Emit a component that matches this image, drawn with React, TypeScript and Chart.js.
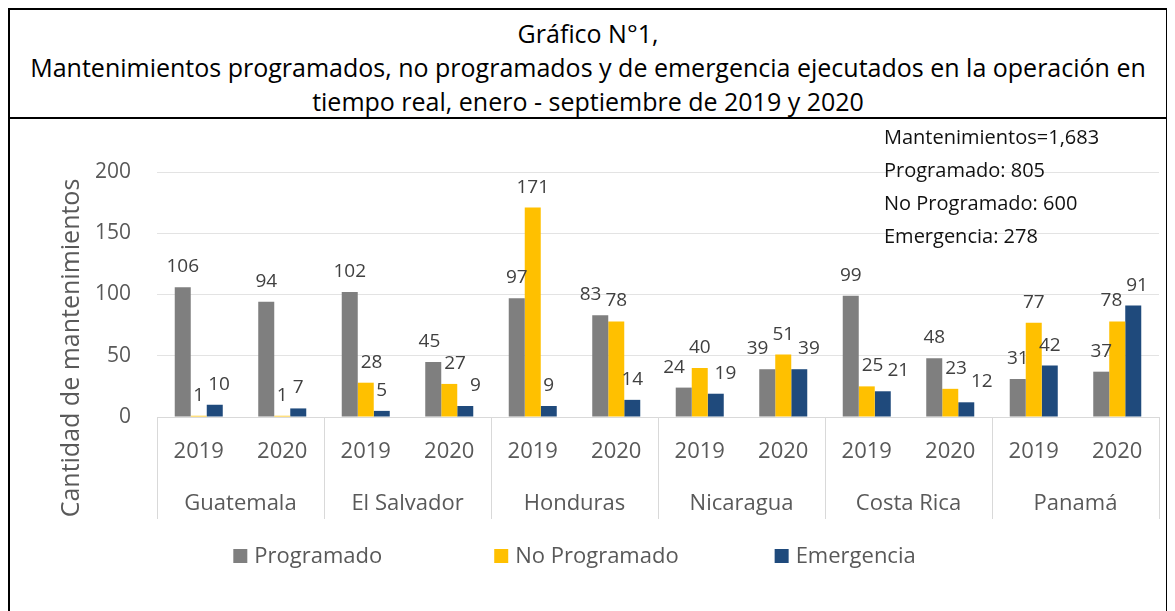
import React, { useEffect, useRef } from "react";
import { Chart, registerables } from "chart.js";

Chart.register(...registerables);

const FONT = "'Open Sans', 'Noto Sans', sans-serif";

const titleLines = [
  "Gráfico N°1,",
  "Mantenimientos programados, no programados y de emergencia ejecutados en la operación en",
  "tiempo real, enero - septiembre de 2019 y 2020",
];
const years = ["2019", "2020", "2019", "2020", "2019", "2020", "2019", "2020", "2019", "2020", "2019", "2020"];
const countries = ["Guatemala", "El Salvador", "Honduras", "Nicaragua", "Costa Rica", "Panamá"];
const programado = [106, 94, 102, 45, 97, 83, 24, 39, 99, 48, 31, 37];
const noProgramado = [1, 1, 28, 27, 171, 78, 40, 51, 25, 23, 77, 78];
const emergencia = [10, 7, 5, 9, 9, 14, 19, 39, 21, 12, 42, 91];
const seriesNames = ["Programado", "No Programado", "Emergencia"];
const seriesColors = ["#7F7F7F", "#FFC000", "#1F4A7C"];
const yMin = 0;
const yMax = 200;
const yStep = 50;
const yTitle = "Cantidad de mantenimientos";
const summaryLines = ["Mantenimientos=1,683", "Programado: 805", "No Programado: 600", "Emergencia: 278"];

type Box = { l: number; r: number; t: number; b: number };
const hits = (a: Box, o: Box) => a.l < o.r && a.r > o.l && a.b > o.t && a.t < o.b;

const dataLabelPlugin = {
  id: "dataLabels",
  afterDatasetsDraw(chart: any) {
    const ctx = chart.ctx;
    ctx.save();
    ctx.font = `19px ${FONT}`;
    ctx.fillStyle = "#404040";
    ctx.textAlign = "center";
    ctx.textBaseline = "alphabetic";
    const metas = chart.data.datasets.map((_: any, i: number) => chart.getDatasetMeta(i));
    const n = chart.data.labels.length;
    const UP = 15;
    const GAP = 3;
    for (let j = 0; j < n; j++) {
      const bars = metas.map((m: any) => m.data[j]);
      const rects: Box[] = bars.map((b: any) => ({ l: b.x - b.width / 2, r: b.x + b.width / 2, t: b.y, b: b.base }));
      const labs = bars.map((b: any, i: number) => {
        const text = String(chart.data.datasets[i].data[j]);
        return { text, w: ctx.measureText(text).width, x: b.x, base: b.y - UP };
      });
      const box = (L: any): Box => ({ l: L.x - L.w / 2 - 1, r: L.x + L.w / 2 + 1, t: L.base - 21, b: L.base + 5 });
      // middle label avoids neighbouring bars
      if (hits(box(labs[1]), rects[0])) labs[1].x = rects[0].r + GAP + labs[1].w / 2;
      else if (hits(box(labs[1]), rects[2])) labs[1].x = rects[2].l - GAP - labs[1].w / 2;
      // side labels avoid the middle label
      const mid = box(labs[1]);
      if (hits(box(labs[0]), mid)) labs[0].x = mid.l - GAP - labs[0].w / 2;
      if (hits(box(labs[2]), mid)) labs[2].x = mid.r + GAP + labs[2].w / 2;
      labs.forEach((L: any) => ctx.fillText(L.text, L.x, L.base));
    }
    ctx.restore();
  },
};

const extrasPlugin = {
  id: "extras",
  afterDraw(chart: any) {
    const ctx = chart.ctx;
    const area = chart.chartArea;
    ctx.save();
    ctx.font = `25px ${FONT}`;
    ctx.fillStyle = "#595959";
    ctx.textAlign = "center";
    ctx.textBaseline = "middle";
    ctx.translate(62, 229);
    ctx.rotate(-Math.PI / 2);
    ctx.fillText(yTitle, 0, 0);
    ctx.restore();

    ctx.save();
    ctx.font = `20px ${FONT}`;
    ctx.fillStyle = "#111111";
    ctx.textAlign = "left";
    ctx.textBaseline = "middle";
    summaryLines.forEach((t, i) => {
      ctx.fillText(t, 874, 19 + i * 33);
    });
    ctx.restore();

    ctx.save();
    ctx.font = `22px ${FONT}`;
    ctx.textBaseline = "middle";
    ctx.textAlign = "left";
    const box = 14;
    const gapText = 7;
    const gaps = [112, 96];
    const widths = seriesNames.map((nm) => ctx.measureText(nm).width);
    const total =
      widths.reduce((a, b) => a + b, 0) + seriesNames.length * (box + gapText) + gaps.reduce((a, b) => a + b, 0);
    let x = 564.5 - total / 2;
    const yc = area.bottom + 139;
    seriesNames.forEach((nm, i) => {
      ctx.fillStyle = seriesColors[i];
      ctx.fillRect(x, yc - box / 2, box, box);
      ctx.fillStyle = "#595959";
      ctx.fillText(nm, x + box + gapText, yc + 1);
      x += box + gapText + widths[i] + (gaps[i] || 0);
    });
    ctx.restore();
  },
};

export default function App() {
  const ref = useRef<HTMLCanvasElement>(null);
  useEffect(() => {
    document.documentElement.style.overflow = "hidden";
    const chart = new Chart(ref.current!, {
      type: "bar",
      data: {
        labels: years,
        datasets: [
          { label: seriesNames[0], data: programado, backgroundColor: seriesColors[0] },
          { label: seriesNames[1], data: noProgramado, backgroundColor: seriesColors[1] },
          { label: seriesNames[2], data: emergencia, backgroundColor: seriesColors[2] },
        ],
      },
      options: {
        responsive: false,
        animation: false,
        devicePixelRatio: 1,
        layout: { padding: { left: 0, right: 7, top: 53, bottom: 90 } },
        datasets: { bar: { categoryPercentage: 0.575, barPercentage: 1 } },
        plugins: { legend: { display: false }, tooltip: { enabled: false }, title: { display: false } },
        scales: {
          y: {
            min: yMin,
            max: yMax,
            ticks: { stepSize: yStep, color: "#595959", font: { family: FONT, size: 21 }, padding: 26 },
            grid: { color: "#e3e3e3", drawTicks: false, lineWidth: 1 },
            border: { display: false },
            afterFit: (s: any) => {
              s.width = 147;
            },
          },
          x: {
            type: "category",
            offset: true,
            weight: 0,
            grid: {
              offset: true,
              drawOnChartArea: false,
              drawTicks: true,
              tickLength: 50,
              lineWidth: 1,
              color: (c: any) => (c.index === undefined || c.index % 2 === 0 ? "#d9d9d9" : "rgba(0,0,0,0)"),
            },
            border: { display: true, color: "#d9d9d9", width: 1 },
            ticks: { color: "#595959", font: { family: FONT, size: 22 }, padding: -28, maxRotation: 0, autoSkip: false },
            afterFit: (s: any) => {
              s.height = 50;
            },
          },
          x2: {
            type: "category",
            labels: countries,
            position: "bottom",
            offset: true,
            weight: 1,
            grid: { offset: true, drawOnChartArea: false, drawTicks: true, tickLength: 52, lineWidth: 1, color: "#d9d9d9" },
            border: { display: false },
            ticks: { color: "#595959", font: { family: FONT, size: 22 }, padding: -28, maxRotation: 0, autoSkip: false },
            afterFit: (s: any) => {
              s.height = 52;
            },
          },
        },
      } as any,
      plugins: [dataLabelPlugin, extrasPlugin],
    });
    return () => chart.destroy();
  }, []);

  return (
    <div
      style={{
        width: 1160,
        height: 640,
        border: "2px solid #000",
        boxSizing: "border-box",
        background: "#fff",
        fontFamily: FONT,
      }}
    >
      <div
        style={{
          height: 109,
          boxSizing: "border-box",
          paddingTop: 6,
          borderBottom: "2px solid #000",
          textAlign: "center",
          fontSize: 25,
          lineHeight: "34px",
          color: "#000",
          whiteSpace: "nowrap",
        }}
      >
        {titleLines.map((t, i) => (
          <div key={i}>{t}</div>
        ))}
      </div>
      <canvas ref={ref} width={1156} height={490} style={{ display: "block", width: 1156, height: 490 }} />
    </div>
  );
}
